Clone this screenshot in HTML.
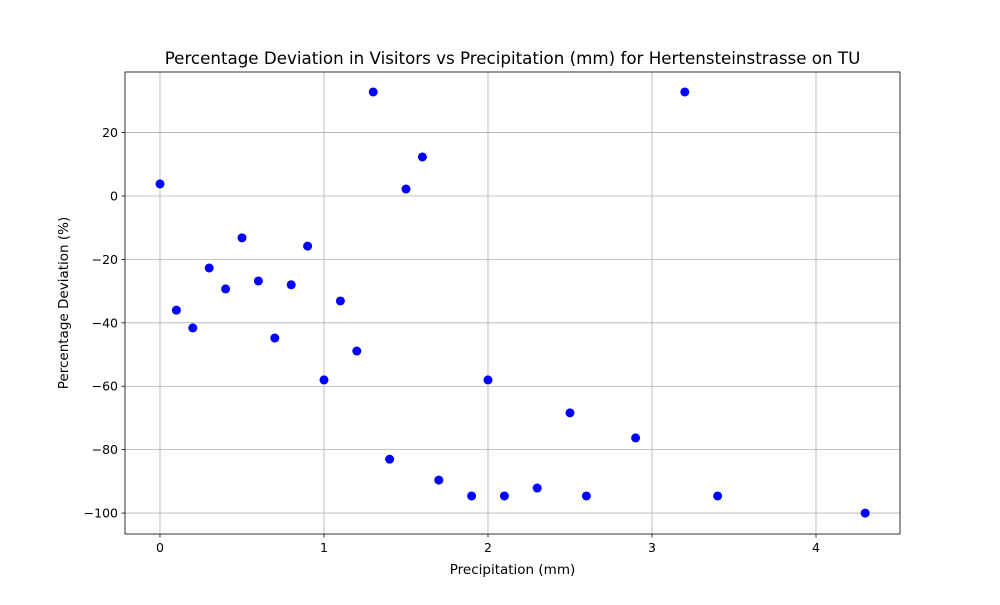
<!DOCTYPE html>
<html><head><meta charset="utf-8"><style>body{margin:0;background:#fff}svg{font-family:"DejaVu Sans","Liberation Sans",sans-serif}</style></head>
<body>
<svg id="chart" width="1000" height="600">
<rect width="1000" height="600" fill="#fff"/>
<g id="grid"></g><g id="pts"></g><g id="axes"></g>
</svg>
<script>
const precipitation=[0,0.1,0.2,0.3,0.4,0.5,0.6,0.7,0.8,0.9,1.0,1.1,1.2,1.3,1.4,1.5,1.6,1.7,1.9,2.0,2.1,2.3,2.5,2.6,2.9,3.2,3.4,4.3];
const deviation=[3.8,-36,-41.6,-22.7,-29.3,-13.2,-26.8,-44.8,-28,-15.8,-58,-33.1,-48.9,32.8,-83,2.2,12.3,-89.6,-94.6,-58,-94.6,-92.1,-68.4,-94.6,-76.3,32.8,-94.6,-100];
const xTicks=[0,1,2,3,4];
const yTicks=[20,0,-20,-40,-60,-80,-100];
const L=125,R=900,T=72,B=534;
const xMin=-0.2134,xMax=4.5122,yMin=-106.6,yMax=39.1;
const X=v=>L+(v-xMin)/(xMax-xMin)*(R-L);
const Y=v=>B-(v-yMin)/(yMax-yMin)*(B-T);
const NS='http://www.w3.org/2000/svg';
function mk(t,a,p,txt){const e=document.createElementNS(NS,t);for(const k in a)e.setAttribute(k,a[k]);if(txt!==undefined)e.textContent=txt;document.getElementById(p).appendChild(e);return e;}
xTicks.forEach(t=>{const x=X(t);
const g=mk('line',{x1:x,x2:x,y1:T,y2:B,stroke:'#b0b0b0','stroke-width':0.8},'grid');


mk('line',{x1:x,x2:x,y1:B,y2:B+3.5,stroke:'#000','stroke-width':0.8},'axes');
const l=mk('text',{x:x,y:B+18,'text-anchor':'middle','font-size':12.5},'axes',String(t));

});
yTicks.forEach(t=>{const y=Y(t);
const g=mk('line',{x1:L,x2:R,y1:y,y2:y,stroke:'#b0b0b0','stroke-width':0.8},'grid');


mk('line',{x1:L-3.5,x2:L,y1:y,y2:y,stroke:'#000','stroke-width':0.8},'axes');
const l=mk('text',{x:L-7,y:y+4.5,'text-anchor':'end','font-size':12.5},'axes',t<0?'\u2212'+(-t):String(t));

});
precipitation.forEach((p,i)=>{const c=mk('circle',{cx:X(p),cy:Y(deviation[i]),r:4.5,fill:'#0000ff'},'pts');

});
const f=mk('rect',{x:L,y:T,width:R-L,height:B-T,fill:'none',stroke:'#000','stroke-width':0.8},'axes');


const ti=mk('text',{x:(L+R)/2,y:64,'text-anchor':'middle','font-size':16.7},'axes','Percentage Deviation in Visitors vs Precipitation (mm) for Hertensteinstrasse on TU');


const xt=mk('text',{x:(L+R)/2,y:574,'text-anchor':'middle','font-size':13.5},'axes','Precipitation (mm)');


const yt=mk('text',{x:0,y:0,'text-anchor':'middle','font-size':13.5,transform:'translate(68,303) rotate(-90)'},'axes','Percentage Deviation (%)');


</script>
</body></html>
